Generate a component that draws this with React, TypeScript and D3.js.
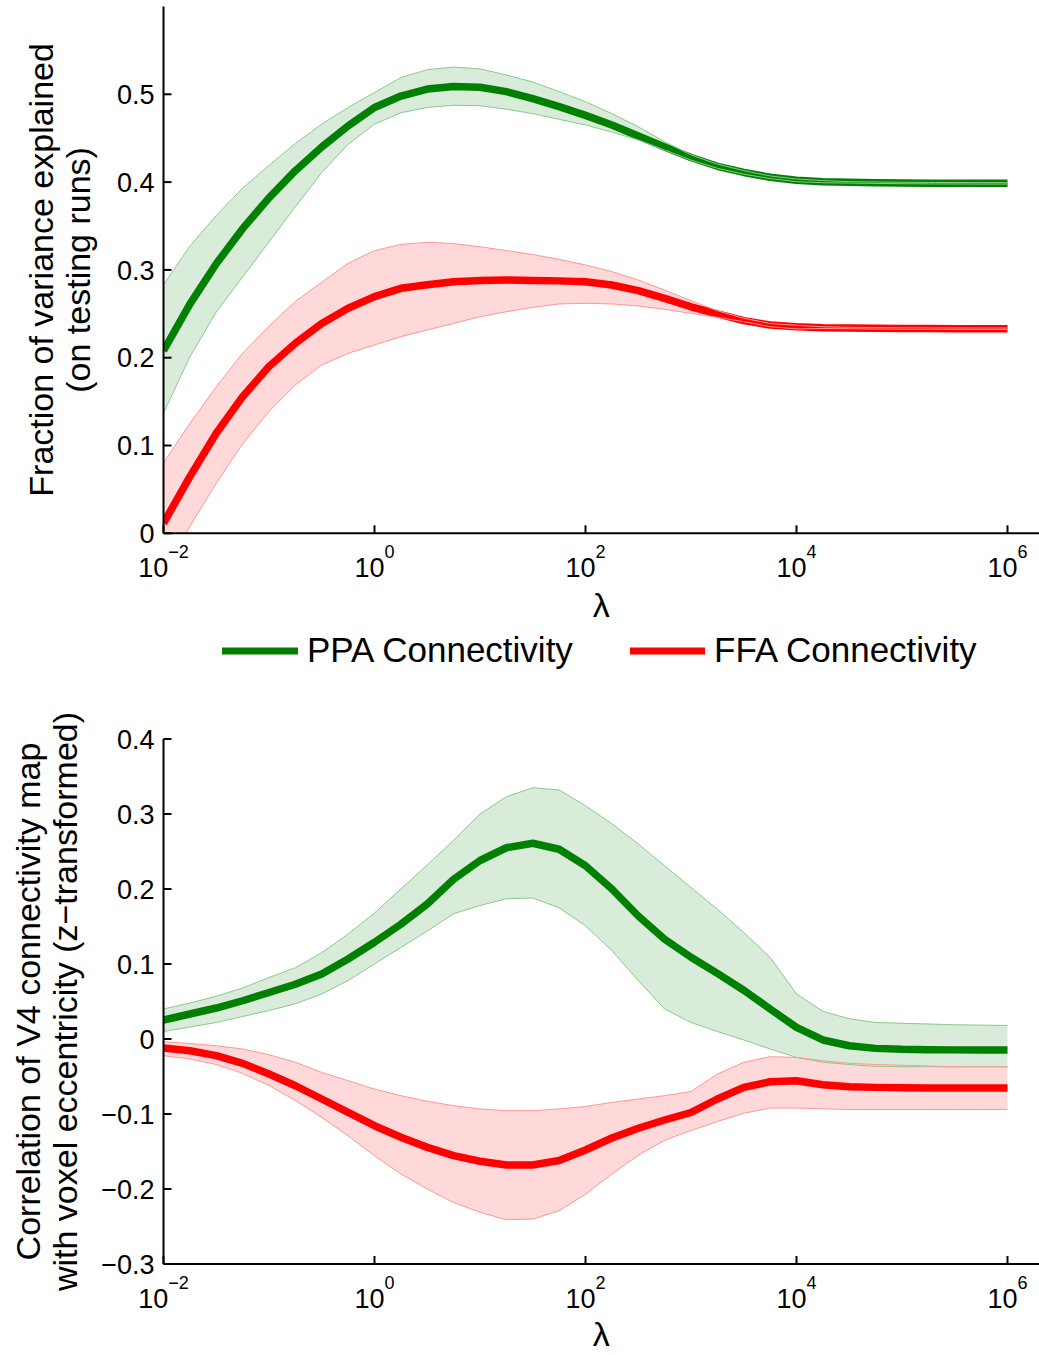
import React from 'react';
import * as d3 from 'd3';

// log10(lambda) sample grid
const LOG_LAMBDA = [-2, -1.75, -1.5, -1.25, -1, -0.75, -0.5, -0.25, 0, 0.25, 0.5, 0.75, 1, 1.25, 1.5, 1.75, 2, 2.25, 2.5, 2.75, 3, 3.25, 3.5, 3.75, 4, 4.25, 4.5, 4.75, 5, 5.25, 5.5, 5.75, 6];

const X_TICK_EXP = [-2, 0, 2, 4, 6];
const TOP_Y_TICKS = [0, 0.1, 0.2, 0.3, 0.4, 0.5];
const BOT_Y_TICKS = [-0.3, -0.2, -0.1, 0, 0.1, 0.2, 0.3, 0.4];

// Top panel: fraction of variance explained
const TOP_PPA_MEAN = [0.208, 0.261, 0.307, 0.347, 0.382, 0.413, 0.440, 0.464, 0.485, 0.498, 0.506, 0.509, 0.508, 0.503, 0.495, 0.486, 0.476, 0.465, 0.4525, 0.440, 0.428, 0.418, 0.411, 0.4055, 0.402, 0.4005, 0.3997, 0.3993, 0.399, 0.3988, 0.3987, 0.3986, 0.3986];
const TOP_PPA_UPPER = [0.283, 0.327, 0.362, 0.393, 0.419, 0.444, 0.466, 0.485, 0.502, 0.519, 0.528, 0.531, 0.529, 0.522, 0.514, 0.503, 0.4916, 0.478, 0.463, 0.446, 0.431, 0.4205, 0.413, 0.407, 0.4035, 0.4017, 0.4005, 0.4001, 0.3998, 0.3996, 0.3995, 0.3994, 0.3994];
const TOP_PPA_LOWER = [0.137, 0.201, 0.252, 0.292, 0.332, 0.372, 0.411, 0.443, 0.466, 0.479, 0.485, 0.4875, 0.487, 0.483, 0.478, 0.4715, 0.465, 0.457, 0.448, 0.4366, 0.425, 0.4157, 0.409, 0.404, 0.4005, 0.3993, 0.3989, 0.3985, 0.3982, 0.398, 0.3979, 0.3978, 0.3978];
const TOP_FFA_MEAN = [0.0114, 0.0645, 0.1139, 0.1556, 0.190, 0.2164, 0.239, 0.2563, 0.2695, 0.279, 0.283, 0.2865, 0.288, 0.2885, 0.288, 0.2875, 0.2866, 0.2828, 0.2763, 0.2676, 0.258, 0.2498, 0.2422, 0.2372, 0.2353, 0.2342, 0.2338, 0.2335, 0.2333, 0.2332, 0.2331, 0.233, 0.233];
const TOP_FFA_UPPER = [0.0805, 0.125, 0.167, 0.205, 0.236, 0.264, 0.286, 0.3075, 0.322, 0.329, 0.3314, 0.330, 0.3264, 0.322, 0.3175, 0.312, 0.3056, 0.298, 0.2885, 0.277, 0.265, 0.2535, 0.2449, 0.239, 0.2369, 0.2352, 0.2346, 0.2343, 0.2341, 0.234, 0.2339, 0.2338, 0.2338];
const TOP_FFA_LOWER = [-0.045, 0.008, 0.057, 0.102, 0.139, 0.169, 0.1917, 0.205, 0.2145, 0.224, 0.2316, 0.239, 0.2467, 0.2524, 0.2574, 0.2612, 0.262, 0.2612, 0.2589, 0.2551, 0.2505, 0.246, 0.241, 0.2353, 0.2328, 0.2332, 0.233, 0.2327, 0.2325, 0.2324, 0.2323, 0.2322, 0.2322];

// Bottom panel: correlation with voxel eccentricity
const BOT_PPA_MEAN = [0.0253, 0.0333, 0.0413, 0.051, 0.062, 0.073, 0.0867, 0.1067, 0.129, 0.153, 0.18, 0.213, 0.238, 0.255, 0.261, 0.253, 0.231, 0.2, 0.164, 0.133, 0.109, 0.0875, 0.065, 0.04, 0.0155, -0.0013, -0.009, -0.0125, -0.0138, -0.0142, -0.0145, -0.0147, -0.0148];
const BOT_PPA_UPPER = [0.04, 0.048, 0.057, 0.068, 0.082, 0.095, 0.115, 0.14, 0.168, 0.2, 0.232, 0.265, 0.3, 0.323, 0.335, 0.332, 0.311, 0.287, 0.26, 0.231, 0.202, 0.173, 0.142, 0.109, 0.06, 0.037, 0.027, 0.022, 0.021, 0.02, 0.019, 0.0185, 0.018];
const BOT_PPA_LOWER = [0.01, 0.016, 0.022, 0.03, 0.038, 0.047, 0.06, 0.078, 0.1, 0.122, 0.144, 0.167, 0.178, 0.187, 0.188, 0.175, 0.151, 0.118, 0.078, 0.04, 0.022, 0.01, -0.0013, -0.0133, -0.0245, -0.031, -0.034, -0.0365, -0.037, -0.037, -0.037, -0.037, -0.037];
const BOT_FFA_MEAN = [-0.012, -0.0156, -0.0222, -0.0325, -0.0467, -0.0623, -0.08, -0.0978, -0.1156, -0.131, -0.1445, -0.1556, -0.163, -0.168, -0.168, -0.162, -0.148, -0.132, -0.119, -0.108, -0.098, -0.08, -0.0645, -0.057, -0.0556, -0.061, -0.0636, -0.0645, -0.065, -0.0652, -0.0653, -0.0653, -0.0653];
const BOT_FFA_UPPER = [-0.0036, -0.006, -0.009, -0.0133, -0.021, -0.031, -0.0445, -0.0556, -0.0667, -0.0756, -0.083, -0.089, -0.0933, -0.0956, -0.0956, -0.0933, -0.09, -0.0845, -0.08, -0.0756, -0.07, -0.0467, -0.031, -0.0236, -0.0245, -0.029, -0.0325, -0.034, -0.035, -0.036, -0.037, -0.037, -0.037];
const BOT_FFA_LOWER = [-0.0222, -0.0267, -0.034, -0.0458, -0.062, -0.082, -0.1045, -0.129, -0.1556, -0.18, -0.2, -0.218, -0.231, -0.241, -0.24, -0.229, -0.207, -0.18, -0.155, -0.135, -0.122, -0.11, -0.099, -0.092, -0.092, -0.093, -0.094, -0.094, -0.094, -0.094, -0.094, -0.094, -0.094];

const GREEN = '#008000';
const RED = '#ff0000';
const GREEN_FILL = 'rgb(217,236,217)';
const RED_FILL = 'rgb(255,217,217)';
const GREEN_EDGE = 'rgb(140,200,140)';
const RED_EDGE = 'rgb(255,150,150)';
const FONT = '"Liberation Sans", Arial, Helvetica, sans-serif';

const W = 1039;
const H = 1355;
const X0 = 163.5;
const X1 = 1007.5;

const x = d3.scaleLog().domain([1e-2, 1e6]).range([X0, X1]);
const yTop = d3.scaleLinear().domain([0, 0.6]).range([533.3, 6.5]);
const yBot = d3.scaleLinear().domain([-0.3, 0.4]).range([1264, 739]);
const fmt = d3.format('~g');

type Series = { mean: number[]; upper: number[]; lower: number[]; color: string; fill: string; edge: string };

function Panel({ y, series, yTicks, clipId, xLabelY, labels, labelX }: {
  y: d3.ScaleLinear<number, number>; series: Series[]; yTicks: number[]; clipId: string; xLabelY: number; labels: string[]; labelX: number[];
}) {
  const [yb, yt] = y.range();
  const area = (s: Series) =>
    d3.area<number>()
      .x((e) => x(Math.pow(10, e)))
      .y0((_, i) => y(s.lower[i]))
      .y1((_, i) => y(s.upper[i]))(LOG_LAMBDA) || '';
  const line = (vals: number[]) =>
    d3.line<number>()
      .x((e) => x(Math.pow(10, e)))
      .y((_, i) => y(vals[i]))(LOG_LAMBDA) || '';
  const yMid = (yb + yt) / 2;
  return (
    <g>
      <defs>
        <clipPath id={clipId}>
          <rect x={X0} y={yt} width={W - X0} height={yb - yt} />
        </clipPath>
      </defs>
      <g clipPath={`url(#${clipId})`}>
        {series.map((s, i) => (
          <path key={'f' + i} d={area(s)} fill={s.fill} stroke="none" />
        ))}
        {series.map((s, i) => (
          <path key={'m' + i} d={line(s.mean)} fill="none" stroke={s.color} strokeWidth={7.5} strokeLinejoin="round" />
        ))}
        {series.map((s, i) => (
          <g key={'e' + i}>
            <path d={line(s.upper)} fill="none" stroke={s.edge} strokeWidth={1} />
            <path d={line(s.lower)} fill="none" stroke={s.edge} strokeWidth={1} />
          </g>
        ))}
      </g>
      {/* axes */}
      <line x1={X0} x2={X0} y1={yt} y2={yb} stroke="#000" strokeWidth={2} />
      <line x1={X0} x2={W} y1={yb} y2={yb} stroke="#000" strokeWidth={2} />
      {yTicks.map((t) => (
        <g key={'yt' + t}>
          <line x1={X0} x2={X0 + 8} y1={y(t)} y2={y(t)} stroke="#000" strokeWidth={2} />
          <text x={X0 - 9} y={y(t)} dy="0.36em" textAnchor="end" fontSize={27} fontFamily={FONT}>
            {fmt(t)}
          </text>
        </g>
      ))}
      {X_TICK_EXP.map((e) => (
        <g key={'xt' + e}>
          <line x1={x(Math.pow(10, e))} x2={x(Math.pow(10, e))} y1={yb} y2={yb - 8} stroke="#000" strokeWidth={2} />
          <text x={x(Math.pow(10, e))} y={yb + 44} textAnchor="middle" fontSize={27} fontFamily={FONT}>
            10
            <tspan dy={-19} fontSize={18}>{e < 0 ? '\u2212' + Math.abs(e) : String(e)}</tspan>
          </text>
        </g>
      ))}
      <text x={(X0 + W) / 2} y={xLabelY} textAnchor="middle" fontSize={34} fontFamily={FONT}>λ</text>
      {labels.map((l, i) => (
        <text key={'lab' + i} transform={`translate(${labelX[i]},${yMid}) rotate(-90)`} textAnchor="middle" fontSize={34} fontFamily={FONT}>
          {l}
        </text>
      ))}
    </g>
  );
}

export default function App() {
  const topSeries: Series[] = [
    { mean: TOP_PPA_MEAN, upper: TOP_PPA_UPPER, lower: TOP_PPA_LOWER, color: GREEN, fill: GREEN_FILL, edge: GREEN_EDGE },
    { mean: TOP_FFA_MEAN, upper: TOP_FFA_UPPER, lower: TOP_FFA_LOWER, color: RED, fill: RED_FILL, edge: RED_EDGE },
  ];
  const botSeries: Series[] = [
    { mean: BOT_PPA_MEAN, upper: BOT_PPA_UPPER, lower: BOT_PPA_LOWER, color: GREEN, fill: GREEN_FILL, edge: GREEN_EDGE },
    { mean: BOT_FFA_MEAN, upper: BOT_FFA_UPPER, lower: BOT_FFA_LOWER, color: RED, fill: RED_FILL, edge: RED_EDGE },
  ];
  return (
    <svg width={W} height={H} style={{ position: 'absolute', left: 0, top: 0, background: '#fff' }}>
      <rect x={0} y={0} width={W} height={H} fill="#fff" />
      <Panel y={yTop} series={topSeries} yTicks={TOP_Y_TICKS} clipId="clipTop" xLabelY={617}
        labels={['Fraction of variance explained', '(on testing runs)']} labelX={[53, 90]} />
      <Panel y={yBot} series={botSeries} yTicks={BOT_Y_TICKS} clipId="clipBot" xLabelY={1346}
        labels={['Correlation of V4 connectivity map', 'with voxel eccentricity (z\u2212transformed)']} labelX={[40, 77]} />
      {/* legend */}
      <line x1={222} x2={298} y1={651} y2={651} stroke={GREEN} strokeWidth={7} />
      <text x={307} y={662} fontSize={35} fontFamily={FONT}>PPA Connectivity</text>
      <line x1={630} x2={705} y1={651} y2={651} stroke={RED} strokeWidth={7} />
      <text x={714} y={662} fontSize={35} fontFamily={FONT}>FFA Connectivity</text>
    </svg>
  );
}
